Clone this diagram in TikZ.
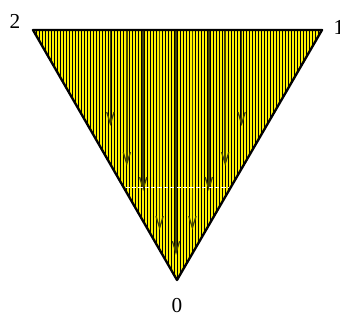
\documentclass[tikz,border=0pt]{standalone}
\usepackage{fontspec}
\setmainfont{Liberation Serif}
\usetikzlibrary{arrows.meta}
\definecolor{olivedark}{RGB}{70,70,0}
\begin{document}
\begin{tikzpicture}[
    x={(0.47pt,0pt)},
    y={(0pt,-0.47pt)},
    line join=round,
    hatch/.style={black, line width=0.35pt},
    flow/.style={olivedark, line width=0.8pt, -{Straight Barb[length=5.5pt,width=3.4pt,line width=0.6pt]}}
]
    \useasboundingbox (0,0) rectangle (340,322);

    % 三角形的顶点
    \coordinate (P2) at (33,30);
    \coordinate (P1) at (322,30);
    \coordinate (P0) at (177,280);

    % 填充与竖线
    \fill[yellow] (P2) -- (P1) -- (P0) -- cycle;
    \begin{scope}
        \clip (P2) -- (P1) -- (P0) -- cycle;
        \foreach \k in {0,...,97} {
            \draw[hatch] (33+3*\k,25) -- (33+3*\k,285);
        }
        % 流线
        \foreach \i/\tip in {-4/126,-3/166,-2/191,-1/230,0/255,1/230,2/191,3/166,4/126} {
            \draw[flow] (176+16.4*\i,31) -- (176+16.4*\i,\tip);
        }
        % 白色虚线
        \draw[white, line width=0.4pt, dash pattern=on 2pt off 1pt] (100,187) -- (260,187);
    \end{scope}

    % 边框
    \draw[line width=1.1pt] (P2) -- (P1) -- (P0) -- cycle;

    % 标号
    \node (n2) at (15,21) {2};
    \node (n1) at (339,27) {1};
    \node (n0) at (177,306) {0};
\end{tikzpicture}
\end{document}
